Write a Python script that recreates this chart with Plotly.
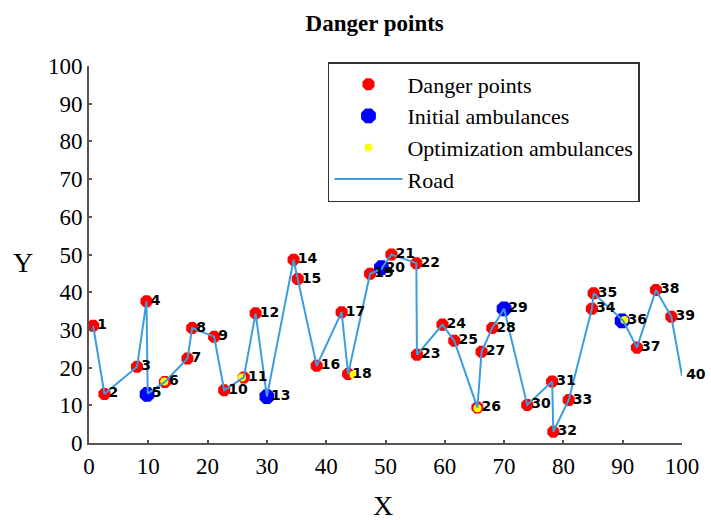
import plotly.graph_objects as go

# Danger points along the road (index 1..40)
point_ids = [str(i) for i in range(1, 41)]
road_x = [0.7, 2.6, 8.1, 9.7, 9.9, 12.8, 16.6, 17.4, 21.1, 22.8,
          26.1, 28.1, 30.0, 34.5, 35.2, 38.4, 42.6, 43.7, 47.4, 49.3,
          51.0, 55.2, 55.3, 59.6, 61.6, 65.5, 66.2, 68.0, 70.0, 73.9,
          78.1, 78.3, 80.9, 84.8, 85.1, 90.1, 92.4, 95.6, 98.2, 100.0]
road_y = [31.1, 13.0, 20.2, 37.6, 13.1, 16.2, 22.4, 30.5, 28.2, 14.0,
          17.4, 34.4, 12.3, 48.6, 43.5, 20.5, 34.7, 18.3, 44.9, 46.2,
          50.0, 47.7, 23.4, 31.4, 27.1, 9.4, 24.2, 30.5, 35.6, 10.1,
          16.3, 3.0, 11.4, 35.6, 39.7, 32.4, 25.3, 40.6, 33.5, 17.8]
# red markers drawn for points 1..39 (point 40 has no visible marker)
danger_count = 39

initial_x = [9.8, 30.0, 49.3, 70.0, 89.9]
initial_y = [12.9, 12.3, 46.5, 35.6, 32.4]

optim_x = [12.7, 25.8, 44.6, 65.5, 90.3]
optim_y = [16.3, 17.4, 18.1, 9.2, 32.6]

ticks = list(range(0, 101, 10))

SERIF = "Liberation Serif, Times New Roman, serif"

fig = go.Figure()
fig.add_trace(go.Scatter(
    x=road_x[:danger_count], y=road_y[:danger_count], mode="markers",
    name="Danger points",
    marker=dict(color="#ff0000", size=13, symbol="octagon", line=dict(width=0)),
    cliponaxis=False))
fig.add_trace(go.Scatter(
    x=initial_x, y=initial_y, mode="markers", name="Initial ambulances",
    marker=dict(color="#0000ff", size=16, symbol="octagon", line=dict(width=0)),
    cliponaxis=False))
fig.add_trace(go.Scatter(
    x=optim_x, y=optim_y, mode="markers", name="Optimization ambulances",
    marker=dict(color="#ffff00", size=8, symbol="circle", line=dict(width=0)),
    cliponaxis=False))
fig.add_trace(go.Scatter(
    x=road_x, y=road_y, mode="lines", name="Road",
    line=dict(color="#3b9ddd", width=2), cliponaxis=False))
fig.add_trace(go.Scatter(
    x=road_x, y=road_y, mode="markers+text", text=point_ids,
    textposition="middle right", showlegend=False, hoverinfo="skip",
    marker=dict(size=5, opacity=0),
    textfont=dict(family="DejaVu Sans", size=14, color="black", weight="bold"),
    cliponaxis=False))

axis_common = dict(
    range=[0, 100], tickvals=ticks, showgrid=False, zeroline=False,
    showline=True, linecolor="#555555", linewidth=2,
    ticks="inside", ticklen=3, tickwidth=1.5, tickcolor="#555555",
    tickfont=dict(family=SERIF, size=23, color="black"),
    fixedrange=True)

fig.update_xaxes(**axis_common, ticklabelstandoff=1)
fig.update_yaxes(**axis_common, ticklabelstandoff=0)

plot_w = 711 - 89 - 24
plot_h = 520 - 66 - 77

fig.update_layout(
    width=711, height=520,
    margin=dict(l=89, r=24, t=66, b=77),
    paper_bgcolor="white", plot_bgcolor="white",
    title=dict(text="<b>Danger points</b>", x=0.527, xref="container",
               y=0.955, yref="container", xanchor="center", yanchor="middle",
               font=dict(family=SERIF, size=23, color="black")),
    legend=dict(x=(330 - 89) / plot_w, y=(443 - 62) / plot_h,
                xanchor="left", yanchor="top",
                bgcolor="white", bordercolor="#333333", borderwidth=1.5,
                font=dict(family=SERIF, size=22, color="black"),
                itemwidth=68, tracegroupgap=0),
    annotations=[
        dict(text="Y", x=(22 - 89) / plot_w, y=(443 - 262) / plot_h,
             xref="paper", yref="paper", showarrow=False,
             xanchor="center", yanchor="middle",
             font=dict(family=SERIF, size=28, color="black")),
        dict(text="X", x=(385 - 89) / plot_w, y=(443 - 505) / plot_h,
             xref="paper", yref="paper", showarrow=False,
             xanchor="center", yanchor="middle",
             font=dict(family=SERIF, size=28, color="black")),
    ],
    showlegend=True,
)

fig.write_html("out.html", config={"displayModeBar": False},
               post_script="document.body.style.margin='0';")
